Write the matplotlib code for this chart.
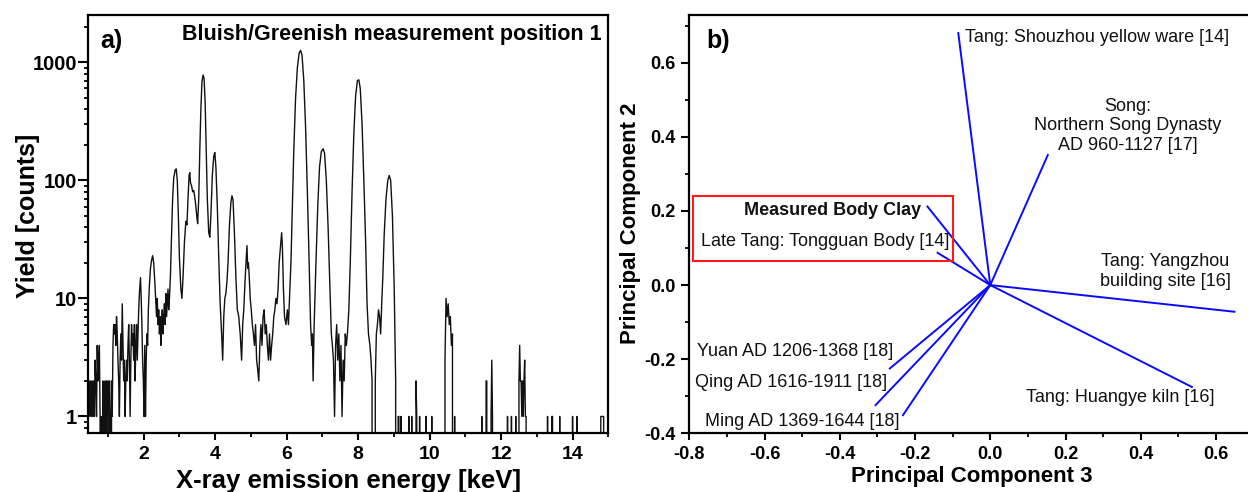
import matplotlib
matplotlib.use("Agg")
import matplotlib.pyplot as plt
from matplotlib.patches import Rectangle
from matplotlib.ticker import LogLocator, NullFormatter, MultipleLocator

# ---------------------------------------------------------------
# data: panel a) XRF spectrum
# ---------------------------------------------------------------
SPEC_E = [
    0.46, 0.48, 0.50, 0.52, 0.54, 0.56, 0.58, 0.60, 0.62, 0.64,
    0.66, 0.68, 0.70, 0.72, 0.74, 0.76, 0.78, 0.80, 0.82, 0.84,
    0.86, 0.88, 0.90, 0.92, 0.94, 0.96, 0.98, 1.00, 1.02, 1.04,
    1.06, 1.08, 1.10, 1.12, 1.14, 1.16, 1.18, 1.20, 1.22, 1.24,
    1.26, 1.28, 1.30, 1.32, 1.34, 1.36, 1.38, 1.40, 1.42, 1.44,
    1.46, 1.48, 1.50, 1.52, 1.54, 1.56, 1.58, 1.60, 1.62, 1.64,
    1.66, 1.68, 1.70, 1.72, 1.74, 1.76, 1.78, 1.80, 1.82, 1.84,
    1.86, 1.88, 1.91, 1.93, 1.95, 1.97, 1.99, 2.01, 2.03, 2.05,
    2.07, 2.09, 2.11, 2.13, 2.16, 2.19, 2.22, 2.25, 2.28, 2.31,
    2.34, 2.36, 2.38, 2.40, 2.42, 2.44, 2.46, 2.48, 2.50, 2.52,
    2.54, 2.56, 2.58, 2.60, 2.62, 2.64, 2.66, 2.68, 2.70, 2.72,
    2.75, 2.78, 2.81, 2.84, 2.88, 2.91, 2.94, 2.97, 3.00, 3.04,
    3.07, 3.10, 3.14, 3.18, 3.21, 3.24, 3.27, 3.29, 3.31, 3.34,
    3.37, 3.40, 3.43, 3.46, 3.49, 3.51, 3.54, 3.57, 3.60, 3.63,
    3.66, 3.69, 3.72, 3.75, 3.78, 3.82, 3.85, 3.88, 3.92, 3.96,
    3.99, 4.02, 4.06, 4.10, 4.14, 4.18, 4.21, 4.24, 4.27, 4.30,
    4.33, 4.36, 4.40, 4.44, 4.47, 4.50, 4.54, 4.58, 4.62, 4.66,
    4.70, 4.74, 4.77, 4.80, 4.84, 4.87, 4.89, 4.91, 4.93, 4.95,
    4.98, 5.01, 5.04, 5.07, 5.10, 5.13, 5.16, 5.19, 5.22, 5.25,
    5.28, 5.31, 5.34, 5.37, 5.40, 5.43, 5.46, 5.49, 5.52, 5.55,
    5.58, 5.61, 5.64, 5.67, 5.70, 5.73, 5.76, 5.79, 5.83, 5.86,
    5.88, 5.91, 5.94, 5.98, 6.02, 6.05, 6.08, 6.12, 6.16, 6.20,
    6.25, 6.30, 6.35, 6.39, 6.43, 6.48, 6.53, 6.58, 6.63, 6.67,
    6.70, 6.72, 6.74, 6.77, 6.82, 6.87, 6.92, 6.97, 7.02, 7.06,
    7.11, 7.16, 7.21, 7.25, 7.28, 7.31, 7.34, 7.37, 7.40, 7.43,
    7.46, 7.49, 7.52, 7.55, 7.58, 7.61, 7.64, 7.67, 7.70, 7.74,
    7.78, 7.83, 7.88, 7.93, 7.98, 8.02, 8.06, 8.11, 8.16, 8.21,
    8.25, 8.29, 8.33, 8.36, 8.39, 8.42, 8.45, 8.48, 8.51, 8.54,
    8.57, 8.60, 8.63, 8.66, 8.69, 8.73, 8.78, 8.83, 8.87, 8.91,
    8.96, 9.01, 9.05, 9.08, 9.12, 9.14, 9.16, 9.20, 9.22, 9.40,
    9.42, 9.44, 9.50, 9.52, 9.60, 9.62, 9.64, 9.66, 9.72, 9.74,
    9.88, 9.90, 9.92, 10.04, 10.06, 10.08, 10.40, 10.43, 10.46, 10.49,
    10.52, 10.55, 10.58, 10.61, 10.64, 10.67, 10.70, 10.72, 11.44, 11.46,
    11.48, 11.56, 11.58, 11.60, 11.62, 11.70, 11.72, 11.74, 11.76, 11.78,
    12.16, 12.18, 12.20, 12.27, 12.29, 12.31, 12.39, 12.41, 12.43, 12.48,
    12.50, 12.52, 12.54, 12.56, 12.58, 12.60, 12.62, 12.64, 12.66, 12.68,
    12.70, 12.72, 13.28, 13.30, 13.32, 13.40, 13.42, 13.44, 13.46, 13.62,
    13.64, 13.66, 13.98, 14.00, 14.02, 14.10, 14.12, 14.14, 14.77, 14.79,
    14.87, 14.89, 15.00,
]
SPEC_COUNTS = [
    1, 2, 1, 2, 1, 2, 1, 2, 1, 3,
    2, 1, 4, 2, 3, 4, 1, 0, 1, 0,
    2, 0, 1, 2, 0, 2, 1, 2, 0, 2,
    1, 0, 2, 1, 4, 6, 5, 6, 4, 7,
    5, 3, 2, 1, 3, 5, 3, 9, 4, 2,
    3, 1, 2, 3, 2, 4, 6, 3, 1, 3,
    6, 4, 5, 3, 6, 2, 4, 6, 3, 5,
    8, 11, 15, 10, 6, 3, 2, 1, 4, 1,
    3, 5, 4, 8, 13, 18, 21, 23, 20, 14,
    9, 7, 10, 6, 8, 5, 7, 4, 6, 8,
    5, 7, 9, 6, 11, 7, 9, 12, 8, 10,
    16, 35, 70, 105, 122, 125, 100, 50, 22, 12,
    10, 15, 30, 45, 42, 70, 110, 116, 95, 90,
    80, 82, 72, 60, 48, 43, 70, 180, 400, 680,
    780, 730, 450, 180, 70, 36, 33, 50, 110, 160,
    172, 130, 60, 22, 9, 5, 3, 7, 10, 11,
    14, 20, 42, 65, 74, 68, 35, 15, 8, 7,
    5, 3, 6, 8, 15, 22, 28, 18, 20, 16,
    10, 8, 6, 5, 4, 6, 3, 2.5, 2, 4,
    6, 4, 7, 8, 5, 6, 4, 3, 5, 3,
    4, 5, 7, 8, 10, 9, 12, 20, 28, 36,
    28, 12, 7, 6, 8, 6, 10, 20, 60, 180,
    500, 900, 1200, 1260, 1150, 700, 280, 80, 20, 6,
    4, 5, 2, 6, 20, 60, 130, 175, 185, 170,
    100, 40, 13, 5, 4, 3, 1, 4, 6, 3,
    5, 2, 4, 1, 3, 2, 5, 4, 5, 8,
    20, 80, 250, 520, 700, 710, 600, 300, 100, 30,
    9, 5, 4, 3, 2, 0, 0, 2, 5, 6,
    8, 7, 5, 9, 15, 35, 70, 100, 110, 100,
    50, 12, 2, 0, 1, 1, 0, 1, 0, 0,
    1, 0, 1, 0, 0, 2, 1, 0, 1, 0,
    0, 1, 0, 0, 1, 0, 0, 3, 10, 7,
    9, 6, 7, 4, 5, 0, 1, 0, 0, 1,
    0, 0, 2, 2, 0, 0, 1, 3, 1, 0,
    0, 1, 0, 0, 1, 0, 0, 1, 0, 0,
    2, 4, 2, 2, 1, 2, 1, 2, 3, 1,
    1, 0, 0, 1, 0, 0, 1, 1, 0, 0,
    1, 0, 0, 1, 0, 0, 1, 0, 0, 1,
    1, 0, 0,
]

SPEC_YTICKS = [1, 10, 100, 1000]
SPEC_YTICKLABELS = ["1", "10", "100", "1000"]
SPEC_XTICKS = [2, 4, 6, 8, 10, 12, 14]

# ---------------------------------------------------------------
# data: panel b) PCA loadings (PC3, PC2)
# ---------------------------------------------------------------
LOAD_NAMES = [
    "Tang: Shouzhou yellow ware [14]",
    "Song:\nNorthern Song Dynasty\nAD 960-1127 [17]",
    "Measured Body Clay",
    "Late Tang: Tongguan Body [14]",
    "Tang: Yangzhou\nbuilding site [16]",
    "Tang: Huangye kiln [16]",
    "Yuan AD 1206-1368 [18]",
    "Qing AD 1616-1911 [18]",
    "Ming AD 1369-1644 [18]",
]
LOAD_PC3 = [-0.085, 0.153, -0.167, -0.140, 0.649, 0.536, -0.267, -0.305, -0.232]
LOAD_PC2 = [0.680, 0.351, 0.212, 0.087, -0.072, -0.275, -0.225, -0.324, -0.351]

PCA_TICKS_X = [-0.8, -0.6, -0.4, -0.2, 0.0, 0.2, 0.4, 0.6]
PCA_TICKS_Y = [-0.4, -0.2, 0.0, 0.2, 0.4, 0.6]

# label layout (x, y, ha) in data coords
LABEL_POS = [
    (-0.066, 0.667, "left"),
    (0.366, 0.430, "center"),
    (-0.183, 0.201, "right"),
    (-0.109, 0.117, "right"),
    (0.465, 0.037, "center"),
    (0.345, -0.304, "center"),
    (-0.258, -0.180, "right"),
    (-0.274, -0.264, "right"),
    (-0.241, -0.367, "right"),
]

# ---------------------------------------------------------------
# style
# ---------------------------------------------------------------
plt.rcParams.update({
    "font.family": ["Liberation Sans", "DejaVu Sans"],
    "axes.linewidth": 1.6,
    "xtick.direction": "out",
    "ytick.direction": "out",
    "xtick.major.size": 5,
    "ytick.major.size": 6,
    "xtick.minor.size": 3,
    "ytick.minor.size": 3,
    "xtick.major.width": 1.5,
    "ytick.major.width": 1.5,
    "xtick.minor.width": 1.3,
    "ytick.minor.width": 1.3,
})

W, H = 1248, 492
fig = plt.figure(figsize=(W / 100, H / 100), dpi=100)

# ---------------------------------------------------------------
# panel a)
# ---------------------------------------------------------------
ax1 = fig.add_axes([88.3 / W, 1 - 433.3 / H, 520 / W, 418 / H])
ax1.plot(SPEC_E, SPEC_COUNTS, color="#111111", lw=1.0)
ax1.set_yscale("log")
ax1.set_xlim(0.45, 15.0)
ax1.set_ylim(0.72, 2500)

ax1.set_xticks(SPEC_XTICKS, labels=[str(t) for t in SPEC_XTICKS],
               fontweight="bold", fontsize=14)
ax1.xaxis.set_minor_locator(MultipleLocator(1))
ax1.set_yticks(SPEC_YTICKS, labels=SPEC_YTICKLABELS,
               fontweight="bold", fontsize=14.5)
ax1.yaxis.set_minor_locator(LogLocator(base=10, subs=range(2, 10)))
ax1.yaxis.set_minor_formatter(NullFormatter())
ax1.tick_params(axis="x", which="major", pad=4)
ax1.tick_params(axis="y", which="major", pad=1, length=7)

ax1.set_xlabel("X-ray emission energy [keV]", fontsize=18.5, fontweight="bold")
ax1.xaxis.set_label_coords(0.5, -0.086)
ax1.set_ylabel("Yield [counts]", fontsize=18, fontweight="bold")
ax1.yaxis.set_label_coords(-0.093, 0.519)

ax1.text(0.0225, 0.939, "a)", transform=ax1.transAxes, fontsize=18,
         fontweight="bold", ha="left", va="center")
ax1.text(0.988, 0.955, "Bluish/Greenish measurement position 1",
         transform=ax1.transAxes, fontsize=15.5, fontweight="bold",
         ha="right", va="center")

# ---------------------------------------------------------------
# panel b)
# ---------------------------------------------------------------
ax2 = fig.add_axes([689.3 / W, 1 - 433.3 / H, 564.3 / W, 418 / H])
for x, y in zip(LOAD_PC3, LOAD_PC2):
    ax2.plot([0, x], [0, y], color="#0a0aff", lw=1.4)

for name, (tx, ty, ha) in zip(LOAD_NAMES, LABEL_POS):
    bold = name == "Measured Body Clay"
    ax2.text(tx, ty, name, fontsize=13, ha=ha, va="center",
             multialignment="center", linespacing=1.2,
             fontweight="bold" if bold else "normal", color="#111111")

ax2.add_patch(Rectangle((-0.789, 0.066), 0.691, 0.174, fill=False,
                        edgecolor="#ff1a1a", lw=1.5, zorder=5))

ax2.set_xlim(-0.8, 0.7)
ax2.set_ylim(-0.4, 0.728)
ax2.set_xticks(PCA_TICKS_X, labels=[f"{t:.1f}" for t in PCA_TICKS_X],
               fontweight="bold", fontsize=13)
ax2.set_yticks(PCA_TICKS_Y, labels=[f"{t:.1f}" for t in PCA_TICKS_Y],
               fontweight="bold", fontsize=13)
ax2.xaxis.set_minor_locator(MultipleLocator(0.1))
ax2.yaxis.set_minor_locator(MultipleLocator(0.1))
ax2.tick_params(axis="both", which="major", pad=4)

ax2.set_xlabel("Principal Component 3", fontsize=16, fontweight="bold")
ax2.xaxis.set_label_coords(0.5, -0.078)
ax2.set_ylabel("Principal Component 2", fontsize=16, fontweight="bold")
ax2.yaxis.set_label_coords(-0.086, 0.503)

ax2.text(0.0296, 0.939, "b)", transform=ax2.transAxes, fontsize=18,
         fontweight="bold", ha="left", va="center")

fig.savefig("out.png", dpi=100)
